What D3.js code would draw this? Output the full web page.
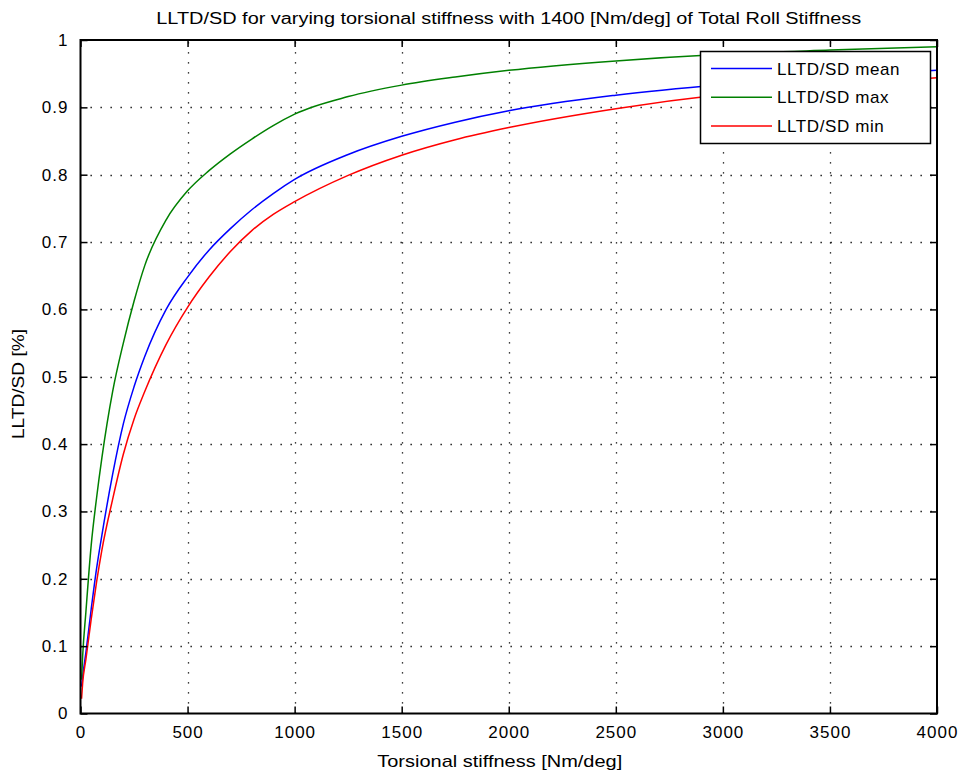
<!DOCTYPE html>
<html>
<head>
<meta charset="utf-8">
<script src="https://cdn.jsdelivr.net/npm/d3@7"></script>
<style>
  body { margin: 0; background: #fff; }
  text { font-family: "Liberation Sans", Arial, sans-serif; fill: #000; }
</style>
</head>
<body>
<div id="chart"></div>
<script>
// torsional stiffness [Nm/deg]
let stiffness = [5, 10, 25, 50, 75, 100, 150, 200, 250, 300, 400, 500, 600, 700, 800, 900, 1000, 1250, 1500, 1750, 2000, 2500, 3000, 3500, 4000];
let lltdMean = [0.04, 0.055, 0.09, 0.155, 0.215, 0.265, 0.355, 0.43, 0.485, 0.53, 0.6, 0.648, 0.688, 0.72, 0.748, 0.772, 0.793, 0.83, 0.857, 0.878, 0.895, 0.918, 0.934, 0.946, 0.955];
let lltdMax = [0.05, 0.085, 0.15, 0.25, 0.32, 0.38, 0.478, 0.55, 0.612, 0.665, 0.733, 0.776, 0.806, 0.831, 0.853, 0.873, 0.89, 0.916, 0.933, 0.945, 0.955, 0.969, 0.979, 0.985, 0.99];
let lltdMin = [0.022, 0.045, 0.08, 0.14, 0.195, 0.243, 0.318, 0.385, 0.437, 0.478, 0.548, 0.603, 0.648, 0.686, 0.717, 0.741, 0.76, 0.799, 0.829, 0.852, 0.87, 0.898, 0.919, 0.933, 0.944];
let xTicks = [0, 500, 1000, 1500, 2000, 2500, 3000, 3500, 4000];
let yTicks = [0, 0.1, 0.2, 0.3, 0.4, 0.5, 0.6, 0.7, 0.8, 0.9, 1];
let seriesNames = ['LLTD/SD mean', 'LLTD/SD max', 'LLTD/SD min'];
let seriesColors = ['#0000ff', '#008000', '#ff0000'];

let width = 963;
let height = 774;
let plotLeft = 80.5, plotRight = 937, plotTop = 40, plotBottom = 713.5;

let svg = d3.select('#chart')
	.append('svg')
	.attr('width', width)
	.attr('height', height);

let x = d3.scaleLinear().domain([0, 4000]).range([plotLeft, plotRight]);
let y = d3.scaleLinear().domain([0, 1]).range([plotBottom, plotTop]);

// dotted grid
let grid = svg.append('g')
	.attr('stroke', '#000')
	.attr('stroke-width', 1.3)
	.attr('stroke-dasharray', '1.3,8.7');

grid.selectAll('.gx')
	.data(xTicks.slice(1, -1))
	.enter()
	.append('line')
	.attr('x1', d => Math.round(x(d)) + 0.5)
	.attr('x2', d => Math.round(x(d)) + 0.5)
	.attr('y1', plotBottom)
	.attr('y2', plotTop);

grid.selectAll('.gy')
	.data(yTicks.slice(1, -1))
	.enter()
	.append('line')
	.attr('y1', d => Math.round(y(d)) + 0.5)
	.attr('y2', d => Math.round(y(d)) + 0.5)
	.attr('x1', plotLeft)
	.attr('x2', plotRight);

// series lines
let series = [lltdMean, lltdMax, lltdMin];
let line = d3.line()
	.x((d, i) => x(stiffness[i]))
	.y(d => y(d))
	.curve(d3.curveMonotoneX);

// draw order: mean, max, min
series.forEach(function(s, i){
	svg.append('path')
		.datum(s)
		.attr('fill', 'none')
		.attr('stroke', seriesColors[i])
		.attr('stroke-width', 1.5)
		.attr('d', line);
});

// axes with inward ticks on all four sides
let tickLen = 7;
let axisBottom = d3.axisBottom(x).tickValues(xTicks).tickSizeInner(-tickLen).tickSizeOuter(0).tickPadding(12).tickFormat(d3.format('d'));
let axisTop = d3.axisTop(x).tickValues(xTicks).tickSizeInner(-tickLen).tickSizeOuter(0).tickFormat('');
let axisLeft = d3.axisLeft(y).tickValues(yTicks).tickSizeInner(-tickLen).tickSizeOuter(0).tickPadding(12).tickFormat(d => d === 0 || d === 1 ? d : d3.format('.1f')(d));
let axisRight = d3.axisRight(y).tickValues(yTicks).tickSizeInner(-tickLen).tickSizeOuter(0).tickFormat('');

function styleAxis(g){
	g.selectAll('.domain').remove();
	g.selectAll('line').attr('stroke', '#000').attr('stroke-width', 1.5);
	g.selectAll('text')
		.attr('font-size', 17)
		.attr('letter-spacing', 1)
		.attr('font-family', '"Liberation Sans", Arial, sans-serif')
		.attr('fill', '#000');
}

svg.append('g').attr('transform', 'translate(0,' + plotBottom + ')').call(axisBottom).call(styleAxis);
svg.append('g').attr('transform', 'translate(0,' + plotTop + ')').call(axisTop).call(styleAxis);
svg.append('g').attr('transform', 'translate(' + plotLeft + ',0)').call(axisLeft).call(styleAxis);
svg.append('g').attr('transform', 'translate(' + plotRight + ',0)').call(axisRight).call(styleAxis);

// box
svg.append('rect')
	.attr('x', plotLeft)
	.attr('y', plotTop)
	.attr('width', plotRight - plotLeft)
	.attr('height', plotBottom - plotTop)
	.attr('fill', 'none')
	.attr('stroke', '#000')
	.attr('stroke-width', 2);

// title and axis labels
svg.append('text')
	.attr('x', (plotLeft + plotRight) / 2)
	.attr('y', 24)
	.attr('text-anchor', 'middle')
	.attr('font-size', 16)
	.attr('textLength', 705)
	.attr('lengthAdjust', 'spacingAndGlyphs')
	.text('LLTD/SD for varying torsional stiffness with 1400 [Nm/deg] of Total Roll Stiffness');

svg.append('text')
	.attr('x', (plotLeft + plotRight) / 2 - 9)
	.attr('y', 767)
	.attr('text-anchor', 'middle')
	.attr('font-size', 17)
	.attr('textLength', 245)
	.attr('lengthAdjust', 'spacingAndGlyphs')
	.text('Torsional stiffness [Nm/deg]');

svg.append('text')
	.attr('transform', 'translate(24,' + 384 + ') rotate(-90)')
	.attr('text-anchor', 'middle')
	.attr('font-size', 17)
	.attr('textLength', 110)
	.attr('lengthAdjust', 'spacingAndGlyphs')
	.text('LLTD/SD [%]');

// legend
let legend = svg.append('g');
legend.append('rect')
	.attr('x', 700.5)
	.attr('y', 51.5)
	.attr('width', 230)
	.attr('height', 92)
	.attr('fill', '#fff')
	.attr('stroke', '#000')
	.attr('stroke-width', 1.5);

let rows = legend.selectAll('.row')
	.data(seriesNames)
	.enter()
	.append('g')
	.attr('transform', (d, i) => 'translate(0,' + (68.5 + i * 28.7) + ')');

rows.append('line')
	.attr('x1', 711)
	.attr('x2', 772)
	.attr('stroke', (d, i) => seriesColors[i])
	.attr('stroke-width', 1.5);

rows.append('text')
	.attr('x', 777)
	.attr('y', 6)
	.attr('font-size', 17)
	.attr('letter-spacing', 0.6)
	.text(d => d);
</script>
</body>
</html>
